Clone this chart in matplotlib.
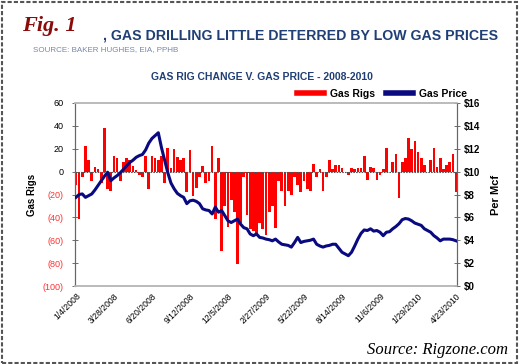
import matplotlib.pyplot as plt
from matplotlib.lines import Line2D
from matplotlib.patches import Rectangle
import numpy as np

# weekly data, 1/4/2008 .. 4/23/2010
rig_change = [
    -12, -41, -5, 22, 10, -8, 4, 2, -10, 38,
    -15, -17, 14, 12, -8, 8, 12, 10, 5, 1,
    -3, -5, 14, -15, 14, 12, 10, 14, -10, 21,
    3, 20, 13, 10, 12, -18, 19, -21, -14, -5,
    5, -10, -8, 22, -41, 12, -69, -30, -48, -25,
    -35, -81, -45, -5, -38, -50, -52, -55, -45, -50,
    -55, -35, -30, -49, -8, -17, -30, -17, -20, -5,
    -12, -18, -8, -15, -17, 7, -5, 2, -17, -5,
    10, 2, 6, 6, 3, 0, -3, 3, 2, 3,
    3, 14, -7, 4, 3, -7, -3, 2, 21, 0,
    8, 15, -23, 8, 12, 29, 20, 27, 17, 12,
    6, 0, 10, 21, 4, 12, 2, 6, 8, 15,
    -18,
]
gas_price = [
    7.75, 8.0, 8.05, 7.75, 7.9, 8.05, 8.4, 8.8, 9.2, 9.6,
    9.95, 9.2, 9.45, 9.65, 9.9, 10.2, 10.5, 10.8, 11.0, 11.25,
    11.4, 11.5, 11.9, 12.5, 12.9, 13.15, 13.4, 12.1, 11.0, 9.9,
    9.0, 8.5, 8.1, 7.9, 7.75, 7.2, 7.45, 7.5, 7.4, 7.2,
    6.75, 6.65, 6.6, 6.3, 6.9, 6.45, 6.6, 6.15, 5.7, 5.55,
    5.7, 5.85, 5.4, 5.1, 5.0, 4.55, 4.4, 4.55, 4.25, 4.2,
    4.1, 4.05, 3.95, 4.1, 3.85, 3.65, 3.6, 3.55, 3.4, 3.8,
    4.25, 3.8, 3.9, 3.95, 4.0, 4.1, 3.65, 3.5, 3.4, 3.5,
    3.55, 3.65, 3.65, 3.3, 2.95, 2.8, 2.65, 2.95, 3.5, 4.1,
    4.6, 4.9, 4.85, 5.0, 4.8, 4.85, 4.7, 4.4, 4.7, 4.75,
    5.0, 5.2, 5.45, 5.8, 5.9, 5.85, 5.7, 5.5, 5.4, 5.3,
    5.0, 4.85, 4.7, 4.4, 4.2, 3.95, 4.1, 4.1, 4.1, 4.05,
    3.95,
]
date_labels = ["1/4/2008", "3/28/2008", "6/20/2008", "9/12/2008", "12/5/2008",
               "2/27/2009", "5/22/2009", "8/14/2009", "11/6/2009", "1/29/2010",
               "4/23/2010"]
rig_ticks = [60, 40, 20, 0, -20, -40, -60, -80, -100]
price_ticks = [0, 2, 4, 6, 8, 10, 12, 14, 16]

weeks = np.arange(len(rig_change))

fig = plt.figure(figsize=(5.2, 3.64), dpi=100)
ax = fig.add_axes([75/520, 1-286/364, 382/520, 183/364])
ax2 = ax.twinx()

ax.bar(weeks, rig_change, width=0.85, color="#ff0000", zorder=2)
ax.axhline(0, color="#555555", lw=0.8, ls=(0, (1.5, 1)), zorder=3)
ax2.plot(weeks, gas_price, color="#0a0a80", lw=2.2, zorder=4)

ax.set_xlim(-0.3, 120.3)
ax.set_ylim(-100, 60)
ax2.set_ylim(0, 16)

ax.set_xticks(np.arange(0, 121, 12))
ax.set_xticklabels(date_labels, rotation=45, ha="right", rotation_mode="anchor",
                   fontsize=6.2, family="Liberation Sans")
ax.tick_params(axis="x", length=0, pad=4)

ax.set_yticks(rig_ticks)
labels = [str(v) if v >= 0 else "(%d)" % -v for v in rig_ticks]
ax.set_yticklabels(labels, fontsize=6.5, family="Liberation Sans")
for t, v in zip(ax.get_yticklabels(), rig_ticks):
    t.set_color("black" if v >= 0 else "#ff3030")
ax.tick_params(axis="y", direction="inout", length=4, width=0.6, color="#555555", pad=6)

ax2.set_yticks(price_ticks)
ax2.set_yticklabels(["$%d" % v for v in price_ticks], fontsize=7, fontweight="bold",
                    family="Liberation Sans")
ax2.tick_params(axis="y", direction="inout", length=4, width=0.6, color="#555555", pad=3)

for a in (ax, ax2):
    for s in ("top", "bottom"):
        a.spines[s].set_color("#bbbbbb")
        a.spines[s].set_linestyle((0, (1.5, 1)))
        a.spines[s].set_linewidth(1.2)
    a.spines["left"].set_color("#666666")
    a.spines["right"].set_color("#666666")

ax.set_ylabel("Gas Rigs", fontsize=7, fontweight="bold", family="Liberation Sans", labelpad=4)
ax2.set_ylabel("Per Mcf", fontsize=8, fontweight="bold", family="Liberation Sans",
               labelpad=8)

handles = [Line2D([], [], color="#ff0000", lw=4), Line2D([], [], color="#0a0a80", lw=4)]
fig.legend(handles, ["Gas Rigs", "Gas Price"], loc="center", bbox_to_anchor=(382/520, 1-94/364),
           ncol=2, frameon=False, handlelength=2.6, columnspacing=1.0, handletextpad=0.6,
           prop={"family": "Liberation Sans", "weight": "bold", "size": 7.5})

fig.text(22/520, 1-26/364, "Fig. 1", color="#8b0a0a", fontsize=16, fontweight="bold",
         style="italic", family="Liberation Serif", va="center")
fig.text(103/520, 1-35/364, ", GAS DRILLING LITTLE DETERRED BY LOW GAS PRICES",
         color="#1f3f75", fontsize=10.2, fontweight="bold", family="Liberation Sans", va="center")
fig.text(33/520, 1-50/364, "SOURCE: BAKER HUGHES, EIA, PPHB", color="#7a86a8",
         fontsize=5.8, family="Liberation Sans", va="center")
fig.text(262/520, 1-77/364, "GAS RIG CHANGE V. GAS PRICE - 2008-2010", color="#1f3f75",
         fontsize=7.5, fontweight="bold", family="Liberation Sans", va="center", ha="center")
fig.text(508/520, 1-350/364, "Source: Rigzone.com", color="black", fontsize=12,
         style="italic", family="Liberation Serif", va="center", ha="right")

fig.patches.append(Rectangle((0.003, 0.004), 0.992, 0.99, transform=fig.transFigure,
                             fill=False, edgecolor="#555555", lw=1.5, ls=(0, (2, 1))))

fig.savefig("out.png", dpi=100)
